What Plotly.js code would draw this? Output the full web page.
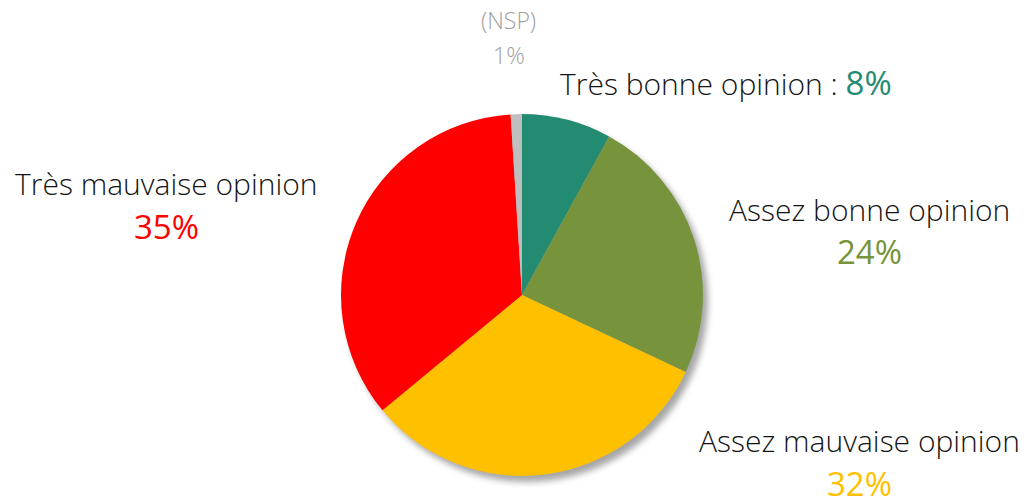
<!DOCTYPE html>
<html>
<head>
<meta charset="utf-8">
<script src="https://cdn.plot.ly/plotly-3.0.1.min.js"></script>
<style>
  html, body { margin: 0; padding: 0; background: #fff; }
  #chart { width: 1028px; height: 499px; }
</style>
</head>
<body>
<div id="chart"></div>
<script>
// opinion categories, clockwise from 12 o'clock
const categories = ['Très bonne opinion', 'Assez bonne opinion', 'Assez mauvaise opinion', 'Très mauvaise opinion', '(NSP)'];
const shares = [8, 24, 32, 35, 1];
const slice_colors = ['#238B72', '#77933C', '#FFC000', '#FF0000', '#BFBFBF'];

const font_family = '"Open Sans", "Noto Sans", sans-serif';

const pie_trace = {
    type: 'pie',
    labels: categories,
    values: shares,
    sort: false,
    direction: 'clockwise',
    rotation: 0,
    textinfo: 'none',
    hoverinfo: 'label+percent',
    marker: { colors: slice_colors, line: { width: 0 } },
    domain: { x: [0.3317, 0.6838], y: [0.0461, 0.7715] },
    showlegend: false
};

// label placement (paper coords) for each category
const label_pos = [
    { x: 0.706, y: 0.834, inline: true },
    { x: 0.846, y: 0.580 },
    { x: 0.836, y: 0.117 },
    { x: 0.162, y: 0.632 },
    { x: 0.495, y: 0.960 }
];

const annotations = [];
categories.forEach((name, i) => {
    const pos = label_pos[i];
    const pct = shares[i] + '%';
    const is_nsp = name === '(NSP)';
    const size = is_nsp ? 23 : 30;
    const pct_size = is_nsp ? 23 : 33;
    const name_color = is_nsp ? '#A0A0A0' : '#141414';
    const pct_color = is_nsp ? '#A0A0A0' : slice_colors[i];
    const base = {
        xref: 'paper', yref: 'paper', showarrow: false,
        xanchor: 'center', yanchor: 'middle'
    };
    if (pos.inline) {
        annotations.push({
            ...base, x: pos.x, y: pos.y,
            text: name + ' : <span style="color:' + pct_color + ';font-weight:400;font-size:' + pct_size + 'px">' + pct + '</span>',
            font: { family: font_family, size: size, color: name_color, weight: 300 }
        });
        return;
    }
    const gap = is_nsp ? 0.07 : 0.085;
    annotations.push({
        ...base, x: pos.x, y: pos.y, text: name,
        font: { family: font_family, size: size, color: name_color, weight: 300 }
    });
    annotations.push({
        ...base, x: pos.x, y: pos.y - gap, text: pct,
        font: { family: font_family, size: pct_size, color: pct_color, weight: is_nsp ? 300 : 400 }
    });
});

const layout = {
    width: 1028,
    height: 499,
    margin: { l: 0, r: 0, t: 0, b: 0 },
    paper_bgcolor: '#ffffff',
    plot_bgcolor: '#ffffff',
    annotations: annotations
};

Plotly.newPlot('chart', [pie_trace], layout, { displayModeBar: false }).then(() => {
    // soft drop shadow under the pie, like the original
    document.querySelectorAll('.pielayer').forEach(el => {
        el.style.filter = 'drop-shadow(5px 6px 3px rgba(0,0,0,0.35))';
    });
});
</script>
</body>
</html>
